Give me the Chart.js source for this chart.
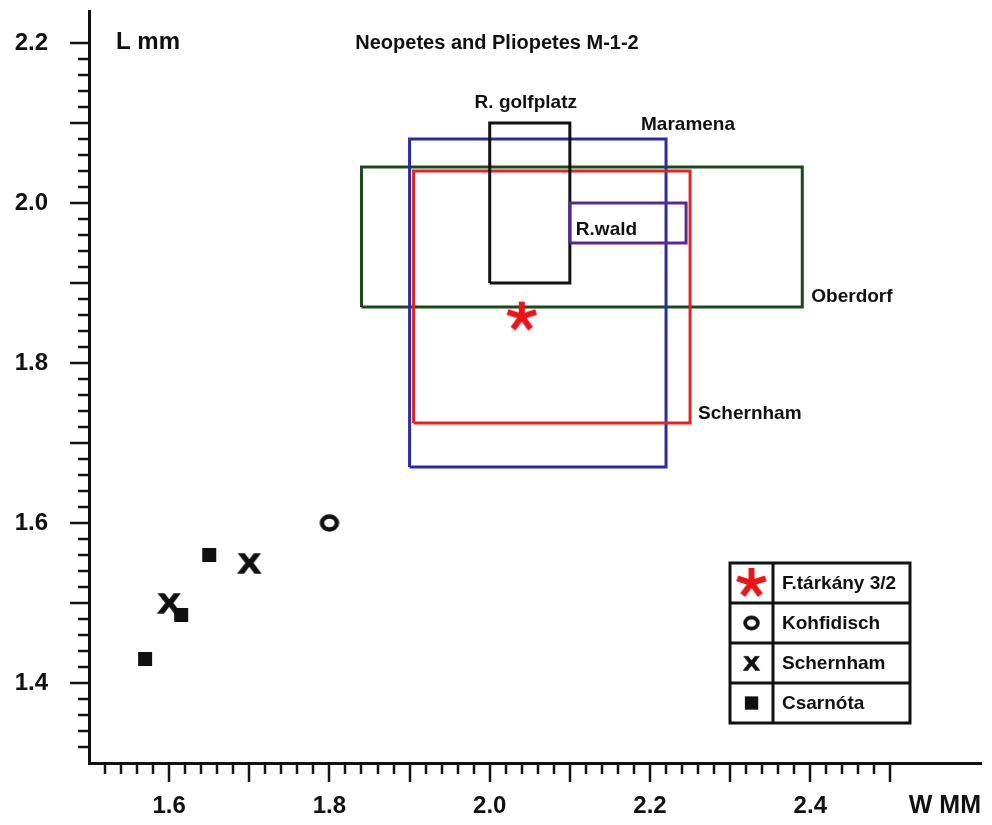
<!DOCTYPE html>
<html>
<head>
<meta charset="utf-8">
<script src="https://cdn.jsdelivr.net/npm/chart.js@4.4.1/dist/chart.umd.min.js"></script>
<style>
body { margin: 0; background: #fff; }
#wrap { width: 992px; height: 825px; }
</style>
</head>
<body>
<div id="wrap"><canvas id="chart" width="992" height="825"></canvas></div>
<script>
/* AXES */
const xTickLabels = [1.6, 1.8, 2.0, 2.2, 2.4];
const yTickLabels = [1.4, 1.6, 1.8, 2.0, 2.2];

/* RANGE BOXES (min / max of W and L) */
const boxNames = ["Oberdorf", "Maramena", "Schernham", "R. golfplatz", "R.wald"];
const boxXMin = [1.84, 1.90, 1.905, 2.00, 2.10];
const boxXMax = [2.39, 2.22, 2.25, 2.10, 2.245];
const boxYMin = [1.87, 1.67, 1.725, 1.90, 1.95];
const boxYMax = [2.045, 2.08, 2.04, 2.10, 2.00];

/* SINGLE FINDS */
const tarkanyX = [2.04], tarkanyY = [1.858];
const kohfidischX = [1.80], kohfidischY = [1.60];
const schernhamX = [1.60, 1.70], schernhamY = [1.50, 1.55];
const csarnotaX = [1.57, 1.615, 1.65], csarnotaY = [1.43, 1.485, 1.56];

const FONT = "'Liberation Sans', Arial, sans-serif";
const boxColors = ["#1d4a1d", "#2b2ba6", "#e32424", "#111111", "#5b2a8c"];
// label anchor: which corner of the box, then offset in px
const boxLabelPos = [
    { cx: "max", cy: "min", dx: 9, dy: -10, align: "left" },
    { cx: "max", cy: "max", dx: -25, dy: -14, align: "left" },
    { cx: "max", cy: "min", dx: 8, dy: -9, align: "left" },
    { cx: "mid", cy: "max", dx: -4, dy: -20, align: "center" },
    { cx: "min", cy: "min", dx: 6, dy: -13, align: "left" }
];

/* GLYPHS */
function glyph(size, draw) {
    const c = document.createElement("canvas");
    c.width = size; c.height = size;
    draw(c.getContext("2d"), size / 2);
    return c;
}
const starGlyph = glyph(36, (g, c) => {
    g.strokeStyle = "#e8161b"; g.lineWidth = 6;
    for (let k = 0; k < 5; k++) {
        const a = -Math.PI / 2 + k * 2 * Math.PI / 5;
        g.beginPath(); g.moveTo(c, c);
        g.lineTo(c + 15 * Math.cos(a), c + 15 * Math.sin(a)); g.stroke();
    }
});
const ringGlyph = glyph(26, (g, c) => {
    g.strokeStyle = "#111"; g.lineWidth = 4.5;
    g.beginPath(); g.ellipse(c, c, 7.5, 6.5, 0, 0, Math.PI * 2); g.stroke();
});
const crossGlyph = glyph(34, (g, c) => {
    g.fillStyle = "#111"; g.strokeStyle = "#111"; g.lineWidth = 1.5;
    g.font = "bold 28px " + FONT; g.textAlign = "center";
    g.translate(c, c + 10); g.scale(1.18, 1);
    g.fillText("X", 0, 0); g.strokeText("X", 0, 0);
});
const squareGlyph = glyph(16, (g, c) => {
    g.fillStyle = "#111"; g.fillRect(c - 7, c - 7, 14, 14);
});

const pts = (xs, ys) => xs.map((v, i) => ({ x: v, y: ys[i] }));

const pointSets = [
    { label: "F.tárkány 3/2", data: pts(tarkanyX, tarkanyY), pointStyle: starGlyph, legendScale: 1.0 },
    { label: "Kohfidisch", data: pts(kohfidischX, kohfidischY), pointStyle: ringGlyph, legendScale: 0.85 },
    { label: "Schernham", data: pts(schernhamX, schernhamY), pointStyle: crossGlyph, legendScale: 0.72 },
    { label: "Csarnóta", data: pts(csarnotaX, csarnotaY), pointStyle: squareGlyph, legendScale: 0.95 }
];

const boxSets = boxNames.map((n, i) => ({
    type: "line",
    label: n,
    data: [
        { x: boxXMin[i], y: boxYMin[i] }, { x: boxXMin[i], y: boxYMax[i] },
        { x: boxXMax[i], y: boxYMax[i] }, { x: boxXMax[i], y: boxYMin[i] },
        { x: boxXMin[i], y: boxYMin[i] }
    ],
    borderColor: boxColors[i],
    borderWidth: 3,
    pointRadius: 0,
    fill: false,
    tension: 0,
    showLine: true
}));

/* OVERLAY: tick marks, texts, legend table */
const overlay = {
    id: "overlay",
    afterDraw(chart) {
        const { ctx, chartArea: a } = chart;
        const x = chart.scales.x, y = chart.scales.y;
        ctx.save();
        ctx.strokeStyle = "#111"; ctx.lineWidth = 2.5;
        for (let i = 76; i <= 125; i++) {
            const px = Math.round(x.getPixelForValue(i * 0.02));
            const len = i % 5 === 0 ? 19 : 11;
            ctx.beginPath(); ctx.moveTo(px, a.bottom); ctx.lineTo(px, a.bottom + len); ctx.stroke();
        }
        for (let i = 66; i <= 110; i++) {
            const py = Math.round(y.getPixelForValue(i * 0.02));
            const len = i % 5 === 0 ? 19 : 11;
            ctx.beginPath(); ctx.moveTo(a.left, py); ctx.lineTo(a.left - len, py); ctx.stroke();
        }

        ctx.fillStyle = "#111";
        ctx.textBaseline = "middle";
        ctx.font = "bold 24px " + FONT;
        ctx.textAlign = "left";
        ctx.fillText("L mm", 116, 42);
        ctx.font = "bold 20px " + FONT;
        ctx.textAlign = "center";
        ctx.fillText("Neopetes and Pliopetes M-1-2", 497, 43);

        // box labels
        ctx.font = "bold 19px " + FONT;
        boxNames.forEach((n, i) => {
            const p = boxLabelPos[i];
            const vx = p.cx === "min" ? boxXMin[i] : p.cx === "max" ? boxXMax[i] : (boxXMin[i] + boxXMax[i]) / 2;
            const vy = p.cy === "min" ? boxYMin[i] : boxYMax[i];
            ctx.textAlign = p.align;
            ctx.fillText(n, x.getPixelForValue(vx) + p.dx, y.getPixelForValue(vy) + p.dy);
        });

        // legend table
        const L = 730, T = 563, W = 180, RH = 40, C = 773;
        ctx.lineWidth = 3;
        ctx.strokeRect(L, T, W, RH * pointSets.length);
        ctx.beginPath();
        for (let k = 1; k < pointSets.length; k++) { ctx.moveTo(L, T + RH * k); ctx.lineTo(L + W, T + RH * k); }
        ctx.moveTo(C, T); ctx.lineTo(C, T + RH * pointSets.length);
        ctx.stroke();
        ctx.textAlign = "left";
        pointSets.forEach((s, k) => {
            const cy = T + RH * k + RH / 2;
            const g = s.pointStyle, sc = s.legendScale;
            ctx.drawImage(g, (L + C) / 2 - g.width * sc / 2, cy - g.height * sc / 2, g.width * sc, g.height * sc);
            ctx.fillText(s.label, C + 9, cy + 1);
        });
        ctx.restore();
    }
};

new Chart(document.getElementById("chart"), {
    type: "scatter",
    data: {
        datasets: [
            ...pointSets.map(s => ({ label: s.label, data: s.data, pointStyle: s.pointStyle, pointRadius: 10, showLine: false })),
            ...boxSets.slice().reverse()
        ]
    },
    options: {
        responsive: false,
        animation: false,
        layout: { padding: { top: 10, right: 0, left: 0, bottom: 0 } },
        plugins: { legend: { display: false }, tooltip: { enabled: false } },
        scales: {
            x: {
                type: "linear", min: 1.5, max: 2.613,
                afterBuildTicks: s => { s.ticks = xTickLabels.map(v => ({ value: v })); },
                afterFit: s => { s.height = 62; s.paddingLeft = 0; s.paddingRight = 0; },
                grid: { drawOnChartArea: false, drawTicks: false },
                border: { display: true, width: 3, color: "#111" },
                ticks: {
                    font: { family: FONT, size: 24, weight: "bold" }, color: "#111",
                    padding: 29, maxRotation: 0, autoSkip: false,
                    callback: v => v.toFixed(1)
                },
                title: {
                    display: true, text: "W MM", align: "end", color: "#111",
                    font: { family: FONT, size: 25, weight: "bold" }, padding: { top: 0, bottom: 4 }
                }
            },
            y: {
                type: "linear", min: 1.30, max: 2.24,
                afterBuildTicks: s => { s.ticks = yTickLabels.map(v => ({ value: v })); },
                afterFit: s => { s.width = 89; s.paddingTop = 0; s.paddingBottom = 0; },
                grid: { drawOnChartArea: false, drawTicks: false },
                border: { display: true, width: 3, color: "#111" },
                ticks: {
                    font: { family: FONT, size: 24, weight: "bold" }, color: "#111",
                    padding: 41, autoSkip: false,
                    callback: v => v.toFixed(1)
                }
            }
        }
    },
    plugins: [overlay]
});
</script>
</body>
</html>
